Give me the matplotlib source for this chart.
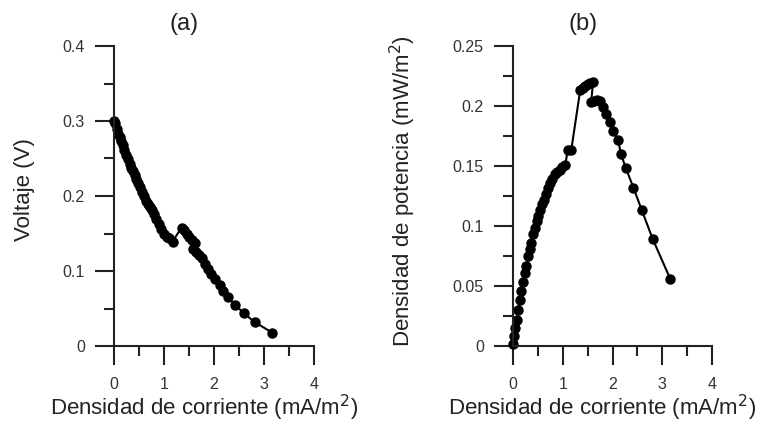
import matplotlib
matplotlib.use("Agg")
import matplotlib.pyplot as plt
from matplotlib.ticker import MultipleLocator, FuncFormatter

plt.rcParams['font.family'] = ['Liberation Sans', 'DejaVu Sans']

current = [0.00, 0.02, 0.05, 0.08, 0.11, 0.14, 0.17, 0.20, 0.24, 0.27,
           0.31, 0.34, 0.37, 0.41, 0.44, 0.48, 0.51, 0.55, 0.59, 0.63,
           0.67, 0.71, 0.75, 0.79, 0.84, 0.89, 0.94, 0.99, 1.05, 1.10,
           1.17, 1.35, 1.40, 1.45, 1.50, 1.55, 1.61, 1.57, 1.63, 1.69,
           1.75, 1.81, 1.87, 1.94, 2.01, 2.11, 2.17, 2.27, 2.42, 2.59,
           2.81, 3.16]
voltage = [0.300, 0.298, 0.290, 0.283, 0.278, 0.273, 0.268, 0.262, 0.255, 0.250,
           0.243, 0.238, 0.233, 0.228, 0.223, 0.217, 0.212, 0.206, 0.200, 0.194,
           0.190, 0.186, 0.181, 0.176, 0.170, 0.163, 0.156, 0.150, 0.145, 0.144,
           0.139, 0.158, 0.155, 0.150, 0.146, 0.141, 0.137, 0.129, 0.125, 0.121,
           0.117, 0.110, 0.103, 0.096, 0.089, 0.081, 0.074, 0.065, 0.055, 0.044,
           0.032, 0.018]
power = [0.002, 0.008, 0.015, 0.022, 0.030, 0.038, 0.046, 0.053, 0.061, 0.067,
         0.075, 0.081, 0.086, 0.093, 0.098, 0.104, 0.108, 0.113, 0.118, 0.122,
         0.127, 0.132, 0.136, 0.139, 0.143, 0.145, 0.147, 0.149, 0.151, 0.163,
         0.163, 0.213, 0.215, 0.217, 0.218, 0.219, 0.220, 0.203, 0.204, 0.205,
         0.204, 0.199, 0.193, 0.187, 0.179, 0.172, 0.160, 0.148, 0.132, 0.113,
         0.089, 0.056]

xlabel = r'Densidad de corriente (mA/m$^{2}$)'
fig = plt.figure(figsize=(7.68, 4.24), dpi=100)
W, H = 768, 424

def make_ax(x0, x1, y0, y1):
    return fig.add_axes([x0 / W, 1 - y1 / H, (x1 - x0) / W, (y1 - y0) / H])

axa = make_ax(114, 314, 46, 346)
axb = make_ax(513, 712, 46, 346)

fmt = FuncFormatter(lambda v, p: ('%g' % round(v, 4)))

for ax, yvals, ymax, ymaj, ymin, ylabel, title in [
        (axa, voltage, 0.4, 0.1, 0.05, 'Voltaje (V)', '(a)'),
        (axb, power, 0.25, 0.05, 0.025, r'Densidad de potencia (mW/m$^{2}$)', '(b)')]:
    ax.plot(current, yvals, color='black', lw=1.5, marker='o', ms=6.5,
            mfc='black', mec='black', clip_on=False)
    ax.set_xlim(0, 4)
    ax.set_ylim(0, ymax)
    for s in ['top', 'right']:
        ax.spines[s].set_visible(False)
    for s in ['left', 'bottom']:
        ax.spines[s].set_linewidth(1.5)
        ax.spines[s].set_color('#222222')
    ax.xaxis.set_major_locator(MultipleLocator(1))
    ax.xaxis.set_minor_locator(MultipleLocator(0.5))
    ax.yaxis.set_major_locator(MultipleLocator(ymaj))
    ax.yaxis.set_minor_locator(MultipleLocator(ymin))
    ax.xaxis.set_major_formatter(fmt)
    ax.yaxis.set_major_formatter(fmt)
    ax.tick_params(which='major', direction='out', length=14, width=1.5,
                   color='#222222', labelsize=11.5, labelcolor='#333333')
    ax.tick_params(axis='y', which='major', pad=7)
    ax.tick_params(axis='x', which='major', pad=8)
    ax.tick_params(which='minor', direction='out', length=7, width=1.5,
                   color='#222222')
    ax.set_xlabel(xlabel, fontsize=16, color='#222222')
    ax.set_ylabel(ylabel, fontsize=16, color='#222222')
    ax.text(0.35, 1.073, title, transform=ax.transAxes, ha='center',
            va='center', fontsize=17, color='#222222')

axa.xaxis.set_label_coords(0.45, -0.155)
axb.xaxis.set_label_coords(0.445, -0.155)
axa.yaxis.set_label_coords(-0.395, 0.52)
axb.yaxis.set_label_coords(-0.477, 0.517)

fig.savefig('out.png', dpi=100)
